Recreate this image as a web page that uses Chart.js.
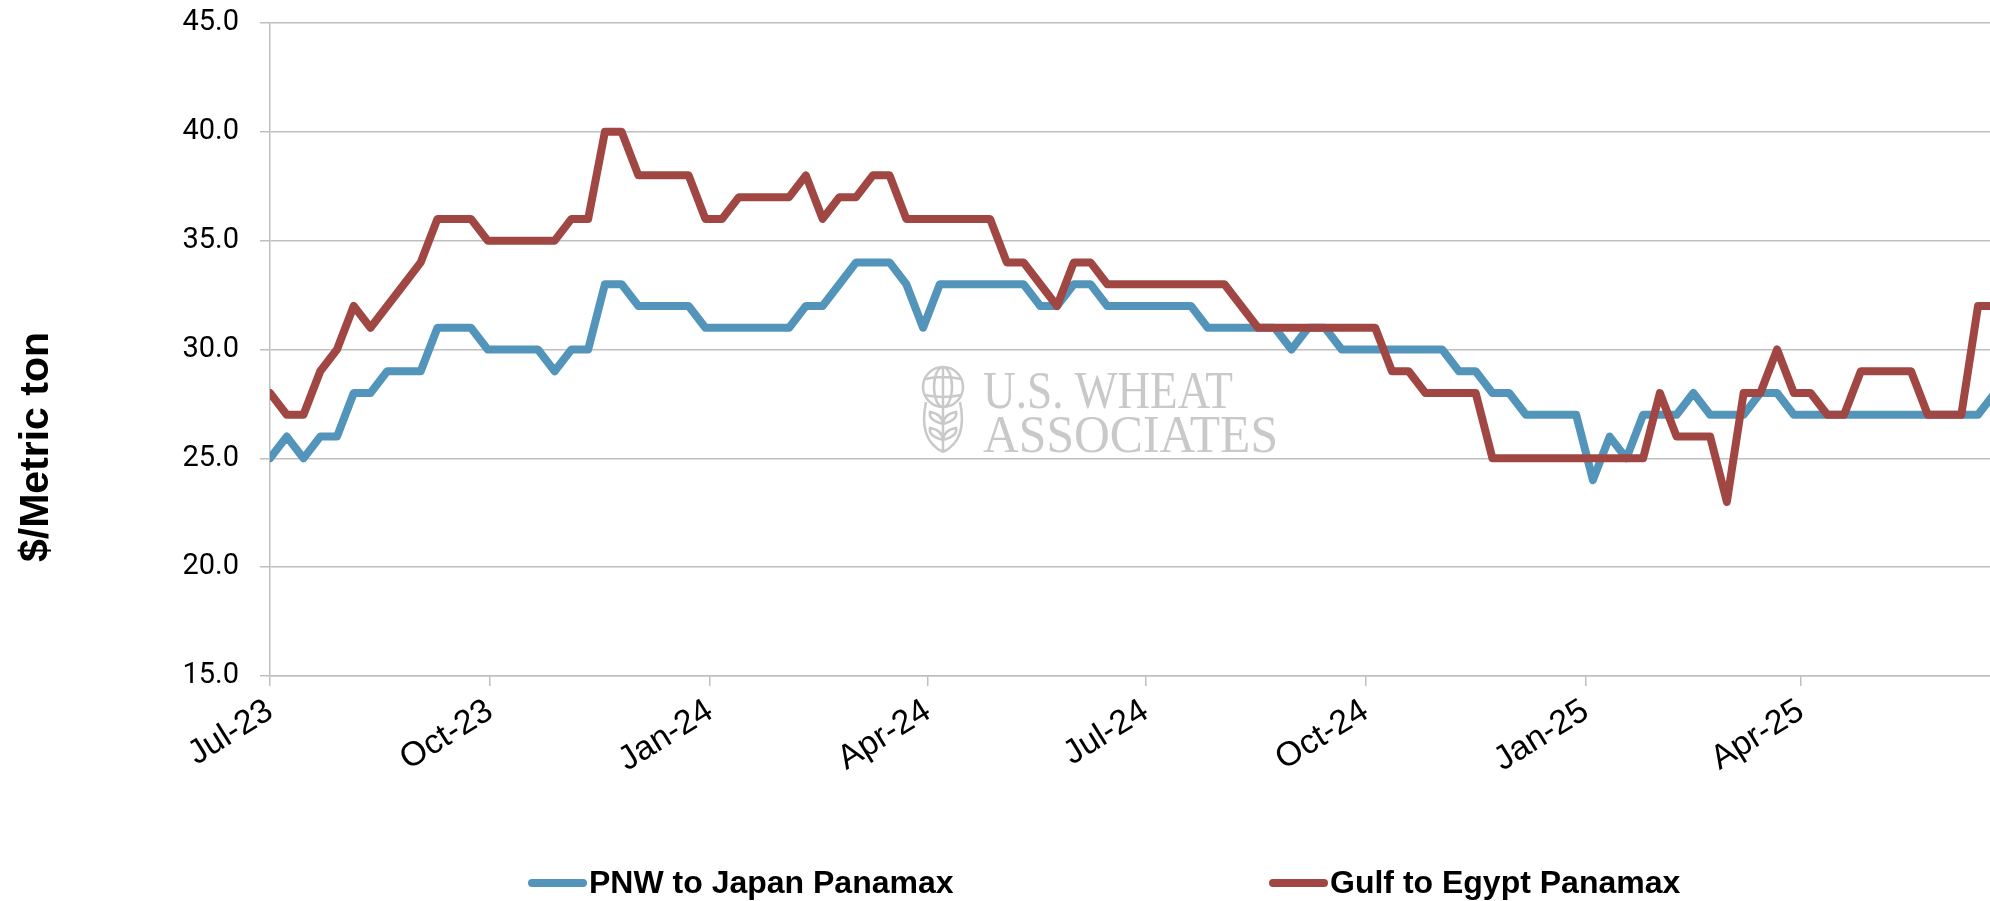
<!DOCTYPE html>
<html>
<head>
<meta charset="utf-8">
<title>Ocean Freight Rates</title>
<script src="https://cdn.jsdelivr.net/npm/chart.js@4.4.1/dist/chart.umd.min.js"></script>
<style>
    html, body { margin: 0; padding: 0; background: #fff; }
    #wrap { width: 1990px; height: 901px; }
</style>
</head>
<body>
<div id="wrap"><canvas id="freightChart" width="1990" height="901"></canvas></div>
<script>
// weekly quotes, $/metric ton, first quote in the week of 1 Jul 2023
const firstWeek = '2023-07-01';
const pnwJapan = [
    25, 26, 25, 26, 26, 28, 28, 29, 29, 29, 31, 31, 31, 30, 30, 30, 30, 29, 30, 30,
    33, 33, 32, 32, 32, 32, 31, 31, 31, 31, 31, 31, 32, 32, 33, 34, 34, 34, 33, 31,
    33, 33, 33, 33, 33, 33, 32, 32, 33, 33, 32, 32, 32, 32, 32, 32, 31, 31, 31, 31,
    31, 30, 31, 31, 30, 30, 30, 30, 30, 30, 30, 29, 29, 28, 28, 27, 27, 27, 27, 24,
    26, 25, 27, 27, 27, 28, 27, 27, 27, 28, 28, 27, 27, 27, 27, 27, 27, 27, 27, 27,
    27, 27, 27, 28
];
const gulfEgypt = [
    28, 27, 27, 29, 30, 32, 31, 32, 33, 34, 36, 36, 36, 35, 35, 35, 35, 35, 36, 36,
    40, 40, 38, 38, 38, 38, 36, 36, 37, 37, 37, 37, 38, 36, 37, 37, 38, 38, 36, 36,
    36, 36, 36, 36, 34, 34, 33, 32, 34, 34, 33, 33, 33, 33, 33, 33, 33, 33, 32, 31,
    31, 31, 31, 31, 31, 31, 31, 29, 29, 28, 28, 28, 28, 25, 25, 25, 25, 25, 25, 25,
    25, 25, 25, 28, 26, 26, 26, 23, 28, 28, 30, 28, 28, 27, 27, 29, 29, 29, 29, 27,
    27, 27, 32, 32
];
const seriesNames = ['PNW to Japan Panamax', 'Gulf to Egypt Panamax'];
const yTicks = [15, 20, 25, 30, 35, 40, 45];
const xTickLabels = ['Jul-23', 'Oct-23', 'Jan-24', 'Apr-24', 'Jul-24', 'Oct-24', 'Jan-25', 'Apr-25'];
const xTickDates = ['2023-07-01', '2023-10-01', '2024-01-01', '2024-04-01', '2024-07-01', '2024-10-01', '2025-01-01', '2025-04-01'];
const axisEnd = '2025-06-19';

const DAY = 86400000;
const dayOf = d => (Date.parse(d) - Date.parse(firstWeek)) / DAY;
const xTickDays = xTickDates.map(dayOf);
const toPoints = arr => arr.map((v, i) => ({ x: i * 7, y: v }));

const gridColor = '#BFBFBF';
const blue = '#5394BA';
const red = '#A14743';

// watermark, axis title and legend drawn by hand
const extras = {
    id: 'extras',
    beforeDatasetsDraw(chart) {
        const ctx = chart.ctx;
        ctx.save();
        ctx.fillStyle = '#C9C9C9';
        ctx.strokeStyle = '#C9C9C9';
        ctx.font = '52px "Liberation Serif"';
        ctx.textBaseline = 'alphabetic';
        ctx.fillText('U.S. WHEAT', 983, 408, 250);
        ctx.fillText('ASSOCIATES', 983, 452, 295);

        // globe
        ctx.lineWidth = 2.5;
        ctx.beginPath(); ctx.arc(943, 387, 20, 0, Math.PI * 2); ctx.stroke();
        ctx.beginPath(); ctx.ellipse(943, 387, 9, 20, 0, 0, Math.PI * 2); ctx.stroke();
        ctx.beginPath();
        ctx.moveTo(943, 367); ctx.lineTo(943, 407);
        ctx.moveTo(925, 379); ctx.quadraticCurveTo(943, 375, 961, 379);
        ctx.moveTo(925, 395); ctx.quadraticCurveTo(943, 399, 961, 395);
        ctx.stroke();
        // wheat leaves
        ctx.beginPath();
        ctx.moveTo(943, 407); ctx.lineTo(943, 452);
        ctx.moveTo(926, 402); ctx.quadraticCurveTo(918, 440, 943, 452);
        ctx.moveTo(960, 402); ctx.quadraticCurveTo(968, 440, 943, 452);
        [412, 428].forEach(y => {
            ctx.moveTo(943, y + 12); ctx.quadraticCurveTo(928, y + 8, 930, y);
            ctx.quadraticCurveTo(942, y + 2, 943, y + 12);
            ctx.moveTo(943, y + 12); ctx.quadraticCurveTo(958, y + 8, 956, y);
            ctx.quadraticCurveTo(944, y + 2, 943, y + 12);
        });
        ctx.stroke();
        ctx.restore();
    },
    afterDraw(chart) {
        const ctx = chart.ctx;
        ctx.save();
        // y axis title
        ctx.translate(48, 447);
        ctx.rotate(-Math.PI / 2);
        ctx.font = 'bold 41px "Liberation Sans"';
        ctx.fillStyle = '#000';
        ctx.textAlign = 'center';
        ctx.textBaseline = 'alphabetic';
        ctx.fillText('$/Metric ton', 0, 0);
        ctx.restore();

        // legend
        const starts = [528, 1269];
        ctx.save();
        ctx.font = 'bold 32px "Liberation Sans"';
        ctx.textBaseline = 'alphabetic';
        chart.data.datasets.forEach((ds, i) => {
            const x = starts[i];
            ctx.strokeStyle = ds.borderColor;
            ctx.lineWidth = 8;
            ctx.lineCap = 'round';
            ctx.beginPath();
            ctx.moveTo(x + 4, 883);
            ctx.lineTo(x + 55, 883);
            ctx.stroke();
            ctx.fillStyle = '#000';
            ctx.fillText(ds.label, x + 61, 893);
        });
        ctx.restore();
    }
};

new Chart(document.getElementById('freightChart'), {
    type: 'line',
    data: {
        datasets: [{
            label: seriesNames[0],
            data: toPoints(pnwJapan),
            borderColor: blue,
            borderWidth: 8,
            order: 2
        }, {
            label: seriesNames[1],
            data: toPoints(gulfEgypt),
            borderColor: red,
            borderWidth: 8,
            order: 1
        }]
    },
    options: {
        responsive: false,
        animation: false,
        layout: { padding: { top: 23, left: 0, right: 0, bottom: 0 } },
        elements: {
            line: { tension: 0, borderJoinStyle: 'round', borderCapStyle: 'round', fill: false },
            point: { radius: 0, hoverRadius: 0 }
        },
        plugins: {
            legend: { display: false },
            tooltip: { enabled: false }
        },
        scales: {
            x: {
                type: 'linear',
                min: 0,
                max: dayOf(axisEnd),
                afterBuildTicks: s => { s.ticks = xTickDays.map(v => ({ value: v })); },
                afterFit: s => { s.height = 225; },
                grid: { drawOnChartArea: false, drawTicks: true, tickLength: 10, color: gridColor, lineWidth: 1.5 },
                border: { display: true, color: gridColor, width: 1.5 },
                ticks: {
                    autoSkip: false,
                    minRotation: 32,
                    maxRotation: 32,
                    padding: 5,
                    color: '#000',
                    font: { family: 'Liberation Sans', size: 34 },
                    callback: (v, i) => xTickLabels[i]
                }
            },
            y: {
                min: yTicks[0],
                max: yTicks[yTicks.length - 1],
                afterBuildTicks: s => { s.ticks = yTicks.map(v => ({ value: v })); },
                afterFit: s => { s.width = 270; s.paddingTop = 0; s.paddingBottom = 0; },
                grid: { color: gridColor, lineWidth: 1.5, tickLength: 10 },
                border: { display: true, color: gridColor, width: 1.5 },
                ticks: {
                    padding: 21,
                    color: '#000',
                    font: { family: 'Roboto', size: 29 },
                    callback: v => v.toFixed(1)
                }
            }
        }
    },
    plugins: [extras]
});
</script>
</body>
</html>
